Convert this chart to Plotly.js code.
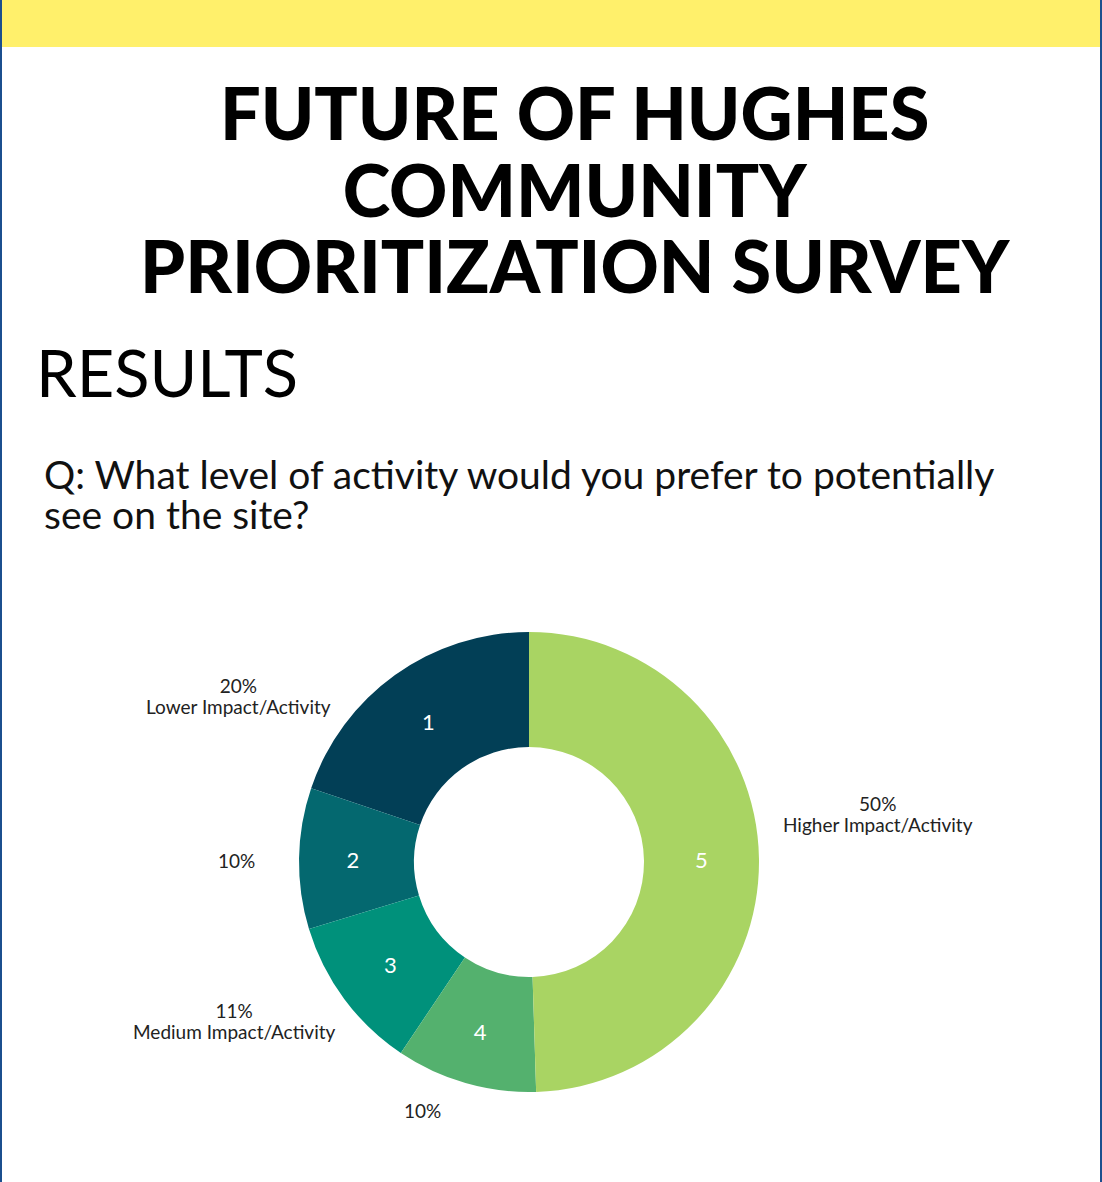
<!DOCTYPE html>
<html>
<head>
<meta charset="utf-8">
<script src="https://cdn.plot.ly/plotly-3.0.1.min.js"></script>
<style>html,body{margin:0;padding:0;background:#fff;}#chart{width:1102px;height:1182px;}</style>
</head>
<body>
<div id="chart"></div>
<script>
// ---- data ----
const sliceIds = ["1", "2", "3", "4", "5"];
const sliceValues = [20, 10, 11, 10, 50];
const sliceNames = ["Lower Impact/Activity", "", "Medium Impact/Activity", "", "Higher Impact/Activity"];
const pctLabels = ["20%", "10%", "11%", "10%", "50%"];
const sliceColors = ["#023f56", "#04686f", "#00917b", "#54b16e", "#a9d463"];
const titleLines = ["FUTURE OF HUGHES", "COMMUNITY", "PRIORITIZATION SURVEY"];
const sectionTitle = "RESULTS";
const questionLines = ["Q: What level of activity would you prefer to potentially", "see on the site?"];

// ---- layout helpers (pixel positions) ----
const W = 1102, H = 1182;
const px = x => x / W;
const py = y => 1 - y / H;
// outside label positions (pixels, centre of the label block)
const labelPos = [[238, 696], [236, 860], [234, 1021], [422, 1110], [878, 814]];

const FONT = "Lato, 'Open Sans', sans-serif";
// multi-line text: base size sets line spacing (1.3 x base), span sets glyph size
const block = (lines, glyphSize) =>
  lines.map(l => '<span style="font-size:' + glyphSize + 'px">' + l + '</span>').join("<br>");

const annotations = [];
annotations.push({
  text: block(titleLines, 72), x: px(575), y: py(189), xref: "paper", yref: "paper",
  xanchor: "center", yanchor: "middle", showarrow: false, align: "center",
  font: {family: FONT, size: 59, color: "#000", weight: 900}
});
annotations.push({
  text: sectionTitle, x: px(34), y: py(372), xref: "paper", yref: "paper",
  xanchor: "left", yanchor: "middle", showarrow: false,
  font: {family: FONT, size: 65, color: "#000"}
});
annotations.push({
  text: block(questionLines, 39), x: px(42), y: py(494), xref: "paper", yref: "paper",
  xanchor: "left", yanchor: "middle", showarrow: false, align: "left",
  font: {family: FONT, size: 31, color: "#111"}
});
pctLabels.forEach((p, i) => {
  const lines = sliceNames[i] ? [p, sliceNames[i]] : [p];
  annotations.push({
    text: block(lines, 19), x: px(labelPos[i][0]), y: py(labelPos[i][1]), xref: "paper", yref: "paper",
    xanchor: "center", yanchor: "middle", showarrow: false, align: "center",
    font: {family: FONT, size: 16.5, color: "#222"}
  });
});

// first slice should end at 12 o'clock when drawn counterclockwise
const total = sliceValues.reduce((a, b) => a + b, 0);
const startRotation = -sliceValues[0] / total * 360;

const trace = {
  type: "pie",
  labels: sliceIds,
  values: sliceValues,
  text: sliceIds,
  textinfo: "text",
  textposition: "inside",
  insidetextorientation: "horizontal",
  textfont: {family: FONT, size: 22, color: "#ffffff"},
  hole: 0.5,
  sort: false,
  direction: "counterclockwise",
  rotation: startRotation,
  marker: {colors: sliceColors, line: {width: 0}},
  domain: {x: [px(299), px(759)], y: [py(1092), py(632)]},
  showlegend: false,
  hoverinfo: "label+value"
};

const layout = {
  width: W, height: H,
  margin: {l: 0, r: 0, t: 0, b: 0},
  paper_bgcolor: "#ffffff",
  showlegend: false,
  shapes: [
    {type: "rect", xref: "paper", yref: "paper", x0: 0, x1: 1, y0: py(47), y1: 1, fillcolor: "#fff06b", line: {width: 0}, layer: "below"},
    {type: "rect", xref: "paper", yref: "paper", x0: 0, x1: px(2), y0: 0, y1: 1, fillcolor: "#1b4f8e", line: {width: 0}},
    {type: "rect", xref: "paper", yref: "paper", x0: px(1100), x1: 1, y0: 0, y1: 1, fillcolor: "#1b4f8e", line: {width: 0}}
  ],
  annotations: annotations
};

Plotly.newPlot("chart", [trace], layout, {displayModeBar: false, staticPlot: true});
</script>
</body>
</html>
